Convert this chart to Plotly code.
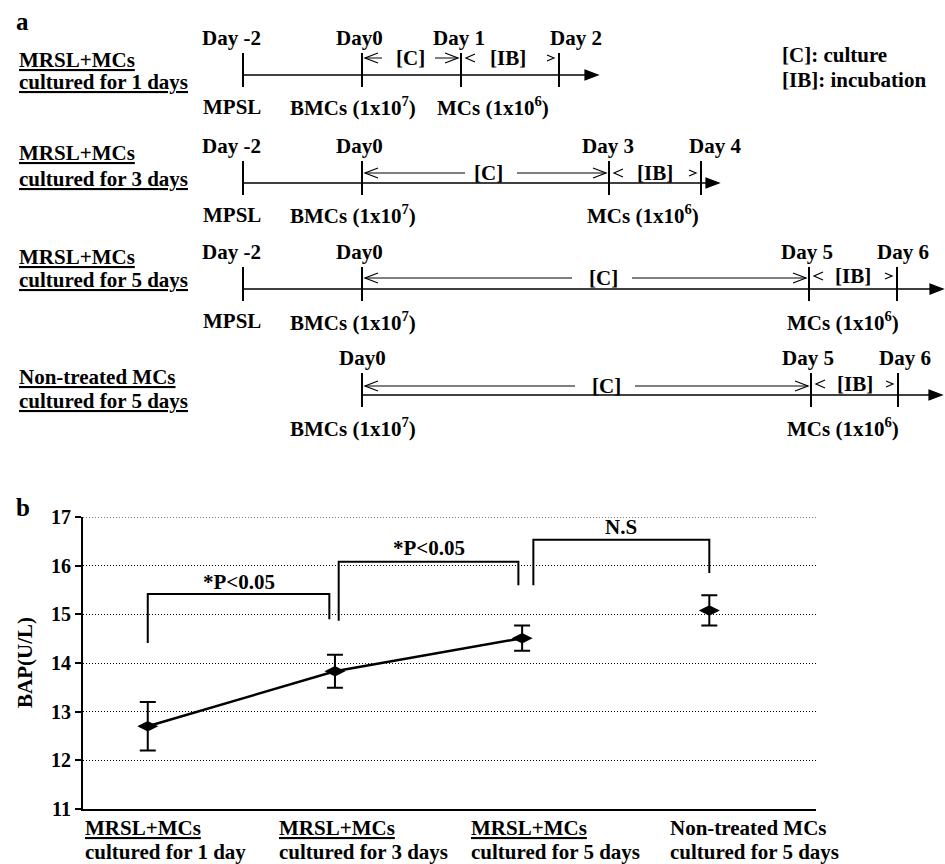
import plotly.graph_objects as go

W, H = 945, 864
FONT = "Liberation Serif"
FS = 21

# ---------------- Panel b data ----------------
group_x = [0, 1, 2, 3]
bap_mean = [12.70, 13.83, 14.51, 15.08]
bap_sd = [0.50, 0.34, 0.26, 0.31]
n_connected = 3
y_ticks = [11, 12, 13, 14, 15, 16, 17]
group_line1 = ["MRSL+MCs", "MRSL+MCs", "MRSL+MCs", "Non-treated MCs"]
group_line2 = ["cultured for 1 day", "cultured for 3 days", "cultured for 5 days", "cultured for 5 days"]
group_underlined = [True, True, True, False]

# significance brackets
br_x_left = [0.0, 1.02, 2.06]
br_x_right = [0.97, 1.98, 3.0]
br_y_left = [14.41, 14.87, 15.60]
br_y_top = [15.42, 16.08, 16.53]
br_y_right = [14.90, 15.60, 15.85]
br_label = ["*P<0.05", "*P<0.05", "N.S"]
br_label_y = [15.66, 16.36, 16.80]

# ---------------- Panel a (schematic) ----------------
row_titles = [("MRSL+MCs", "cultured for 1 days"),
              ("MRSL+MCs", "cultured for 3 days"),
              ("MRSL+MCs", "cultured for 5 days"),
              ("Non-treated MCs", "cultured for 5 days")]
row_day_labels = [["Day -2", "Day0", "Day 1", "Day 2"],
                  ["Day -2", "Day0", "Day 3", "Day 4"],
                  ["Day -2", "Day0", "Day 5", "Day 6"],
                  ["Day0", "Day 5", "Day 6"]]
row_below_labels = [["MPSL", "BMCs (1x10<sup>7</sup>)", "MCs (1x10<sup>6</sup>)"],
                    ["MPSL", "BMCs (1x10<sup>7</sup>)", "MCs (1x10<sup>6</sup>)"],
                    ["MPSL", "BMCs (1x10<sup>7</sup>)", "MCs (1x10<sup>6</sup>)"],
                    ["BMCs (1x10<sup>7</sup>)", "MCs (1x10<sup>6</sup>)"]]
legend_lines = ["[C]: culture", "[IB]: incubation"]

# schematic layout (pixel positions)
row_geom = [
    dict(y=75, end=598, ticks=[243, 362, 461, 559], lab_x=[231, 359, 459, 576],
         below_x=[232, 353, 493], title_y=(60, 82), c_y=58, c_txt=410, c_gap=(28, 25), ib_y=58, ib_txt=508),
    dict(y=183, end=719, ticks=[243, 362, 609, 701], lab_x=[231, 359, 608, 715],
         below_x=[232, 353, 643], title_y=(153, 179), c_y=173, c_txt=488, c_gap=(23, 29), ib_y=173, ib_txt=655),
    dict(y=289, end=943, ticks=[243, 362, 809, 897], lab_x=[231, 359, 807, 903],
         below_x=[232, 353, 843], title_y=(257, 280), c_y=278, c_txt=603, c_gap=(31, 29), ib_y=276, ib_txt=853),
    dict(y=395, end=942, ticks=[362, 811, 898], lab_x=[362, 808, 905],
         below_x=[353, 843], title_y=(377, 401), c_y=386, c_txt=606, c_gap=(31, 29), ib_y=384, ib_txt=855),
]

shapes = []
annots = []


def px(x):
    return x / W


def py(y):
    return 1 - y / H


def seg(x0, y0, x1, y1, w=1.5):
    shapes.append(dict(type="line", xref="paper", yref="paper", x0=px(x0), y0=py(y0),
                       x1=px(x1), y1=py(y1), line=dict(color="black", width=w)))


def poly(points, fill=False, w=1.2):
    d = "M " + " L ".join(f"{px(x):.5f},{py(y):.5f}" for x, y in points)
    if fill:
        d += " Z"
    shapes.append(dict(type="path", xref="paper", yref="paper", path=d,
                       line=dict(color="black", width=w),
                       fillcolor="black" if fill else "rgba(0,0,0,0)"))


def bold_font(size=FS):
    return dict(family=FONT, size=size, color="black", weight="bold")


def text(x, y, s, size=FS, xanchor="center"):
    annots.append(dict(xref="paper", yref="paper", x=px(x), y=py(y), text="<b>" + s + "</b>",
                       showarrow=False, xanchor=xanchor, yanchor="middle",
                       font=bold_font(size)))


# panel letters
text(14, 22, "a", size=25, xanchor="left")
text(14, 507, "b", size=25, xanchor="left")

for g, t1t2, days, below in zip(row_geom, row_titles, row_day_labels, row_below_labels):
    y = g["y"]
    tk = g["ticks"]
    text(17, g["title_y"][0], "<u>" + t1t2[0] + "</u>", xanchor="left")
    text(17, g["title_y"][1], "<u>" + t1t2[1] + "</u>", xanchor="left")
    seg(tk[0], y, g["end"] - 10, y, 1.6)
    poly([(g["end"] - 13, y - 5), (g["end"], y), (g["end"] - 13, y + 5)], fill=True)
    for t in tk:
        seg(t, y - 22, t, y + 12, 2)
    for lbl, lx in zip(days, g["lab_x"]):
        text(lx, y - 37, lbl)
    for lbl, bx in zip(below, g["below_x"]):
        text(bx, y + 32, lbl)
    i0 = days.index("Day0")
    c0, c1 = tk[i0] + 3, tk[i0 + 1] - 3
    cy = g["c_y"]
    seg(c0, cy, g["c_txt"] - g["c_gap"][0], cy, 1)
    poly([(c0 + 13, cy - 5), (c0, cy), (c0 + 13, cy + 5)])
    seg(g["c_txt"] + g["c_gap"][1], cy, c1, cy, 1)
    poly([(c1 - 13, cy - 5), (c1, cy), (c1 - 13, cy + 5)])
    text(g["c_txt"], cy, "[C]")
    b0, b1 = tk[i0 + 1] + 5, tk[i0 + 2] - 5
    iy = g["ib_y"]
    poly([(b0 + 9, iy - 4), (b0, iy), (b0 + 9, iy + 4)])
    poly([(b1 - 7, iy - 3), (b1, iy), (b1 - 7, iy + 3)])
    text(g["ib_txt"], iy, "[IB]")

text(780, 55, legend_lines[0], xanchor="left")
text(780, 80, legend_lines[1], xanchor="left")

# ---------------- Panel b ----------------
fig = go.Figure()
fig.add_trace(go.Scatter(
    x=group_x[:n_connected], y=bap_mean[:n_connected], mode="lines+markers",
    line=dict(color="black", width=2.5),
    marker=dict(symbol="diamond-wide", size=15, color="black"),
    error_y=dict(type="data", array=bap_sd[:n_connected], color="black", thickness=2, width=8),
    showlegend=False, hoverinfo="skip"))
fig.add_trace(go.Scatter(
    x=group_x[n_connected:], y=bap_mean[n_connected:], mode="markers",
    marker=dict(symbol="diamond-wide", size=15, color="black"),
    error_y=dict(type="data", array=bap_sd[n_connected:], color="black", thickness=2, width=8),
    showlegend=False, hoverinfo="skip"))

for xl, xr, yl, yt, yr, lab, ly in zip(br_x_left, br_x_right, br_y_left, br_y_top,
                                        br_y_right, br_label, br_label_y):
    shapes.append(dict(type="path", xref="x", yref="y",
                       path=f"M {xl},{yl} L {xl},{yt} L {xr},{yt} L {xr},{yr}",
                       line=dict(color="black", width=2)))
    annots.append(dict(xref="x", yref="y", x=(xl + xr) / 2, y=ly, text="<b>" + lab + "</b>",
                       showarrow=False, xanchor="center", yanchor="middle",
                       font=bold_font()))

# top dotted grid line at 17 (plotly skips the grid line at the range edge)
shapes.append(dict(type="line", xref="paper", yref="y", x0=83 / W, x1=816 / W, y0=17, y1=17,
                   line=dict(color="black", width=1, dash="1px,2px")))

label_offsets = [-0.346, -0.309, -0.284, -0.221]
for gx, off, l1, l2, u in zip(group_x, label_offsets, group_line1, group_line2, group_underlined):
    annots.append(dict(xref="x", yref="paper", x=gx + off, y=py(828),
                       text="<b>" + ("<u>" + l1 + "</u>" if u else l1) + "</b>",
                       showarrow=False, xanchor="left", yanchor="middle",
                       font=bold_font()))
    annots.append(dict(xref="x", yref="paper", x=gx + off, y=py(852),
                       text="<b>" + l2 + "</b>",
                       showarrow=False, xanchor="left", yanchor="middle",
                       font=bold_font()))

annots.append(dict(xref="paper", yref="paper", x=px(25), y=py(663), text="<b>BAP(U/L)</b>",
                   textangle=-90, showarrow=False, xanchor="center", yanchor="middle",
                   font=bold_font()))

fig.update_layout(
    width=W, height=H,
    margin=dict(l=0, r=0, t=0, b=0),
    paper_bgcolor="white", plot_bgcolor="rgba(0,0,0,0)",
    shapes=shapes, annotations=annots,
    xaxis=dict(domain=[83 / W, 816 / W], range=[-0.346, 3.57], showgrid=False, zeroline=False,
               showline=True, linecolor="black", linewidth=2, showticklabels=False, ticks="",
               automargin=False, fixedrange=True),
    yaxis=dict(domain=[1 - 809 / H, 1 - 517 / H], range=[11, 17], tickvals=y_ticks,
               ticktext=["<b>%d</b>" % v for v in y_ticks],
               showgrid=True, gridcolor="black", griddash="1px,2px", gridwidth=1, zeroline=False,
               showline=True, linecolor="black", linewidth=2, ticks="outside", ticklen=6,
               tickwidth=2, tickcolor="black",
               tickfont=bold_font(20),
               automargin=False, fixedrange=True),
)

fig.write_html("out.html", config={"displayModeBar": False, "staticPlot": True},
               post_script="document.body.style.margin='0';document.body.style.overflow='hidden';")
